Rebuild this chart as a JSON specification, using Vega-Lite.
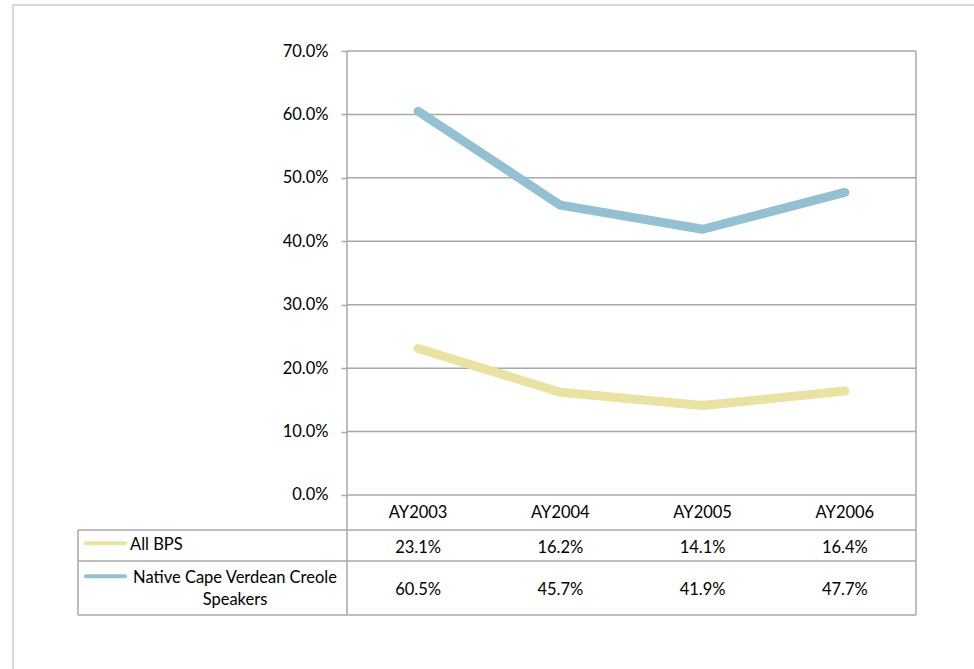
{
  "$schema": "https://vega.github.io/schema/vega-lite/v6.json",
  "width": 974,
  "height": 669,
  "autosize": {"type": "fit", "contains": "padding"},
  "padding": {"left": 13, "top": 5, "right": -4, "bottom": -4},
  "background": "white",
  "config": {
    "view": {"stroke": "#d9d9d9", "strokeWidth": 2},
    "text": {"font": "Lato", "fontSize": 16.5, "color": "#000000"},
    "axis": {"labelFont": "Lato", "labelFontSize": 16.5, "labelColor": "#000000"}
  },
  "datasets": {
    "main": [
      {"year": 2003, "label": "AY2003", "series": "All BPS", "value": 0.231},
      {"year": 2004, "label": "AY2004", "series": "All BPS", "value": 0.162},
      {"year": 2005, "label": "AY2005", "series": "All BPS", "value": 0.141},
      {"year": 2006, "label": "AY2006", "series": "All BPS", "value": 0.164},
      {"year": 2003, "label": "AY2003", "series": "Native Cape Verdean Creole Speakers", "value": 0.605},
      {"year": 2004, "label": "AY2004", "series": "Native Cape Verdean Creole Speakers", "value": 0.457},
      {"year": 2005, "label": "AY2005", "series": "Native Cape Verdean Creole Speakers", "value": 0.419},
      {"year": 2006, "label": "AY2006", "series": "Native Cape Verdean Creole Speakers", "value": 0.477}
    ],
    "ticks": [{"t": 0}, {"t": 0.1}, {"t": 0.2}, {"t": 0.3}, {"t": 0.4}, {"t": 0.5}, {"t": 0.6}, {"t": 0.7}],
    "one": [{}]
  },
  "layer": [
    {
      "data": {"name": "ticks"},
      "mark": {"type": "rule", "color": "#a8a8a8", "strokeWidth": 1.5},
      "encoding": {
        "x": {"datum": 2002.5, "type": "quantitative", "scale": {"domain": [2000.15202, 2006.93585], "nice": false, "zero": false}, "axis": null},
        "x2": {"datum": 2006.5},
        "y": {"field": "t", "type": "quantitative", "scale": {"domain": [-0.280631, 0.772523], "nice": false, "zero": false},
          "axis": {"orient": "left", "offset": -334, "values": [0, 0.1, 0.2, 0.3, 0.4, 0.5, 0.6, 0.7], "format": ".1%", "domain": false, "grid": false, "ticks": true, "tickSize": 6, "tickColor": "#a8a8a8", "tickWidth": 1.5, "labelPadding": 13, "title": null}}
      }
    },
    {
      "data": {"name": "one"},
      "mark": {"type": "rule", "color": "#a8a8a8", "strokeWidth": 1.5},
      "encoding": {
        "x": {"datum": 2000.60896, "type": "quantitative", "scale": {"domain": [2000.15202, 2006.93585], "nice": false, "zero": false}, "axis": null},
        "x2": {"datum": 2006.5},
        "y": {"datum": -0.05518, "type": "quantitative", "scale": {"domain": [-0.280631, 0.772523], "nice": false, "zero": false}}
      }
    },
    {
      "data": {"name": "one"},
      "mark": {"type": "rule", "color": "#a8a8a8", "strokeWidth": 1.5},
      "encoding": {
        "x": {"datum": 2000.60896, "type": "quantitative", "scale": {"domain": [2000.15202, 2006.93585], "nice": false, "zero": false}, "axis": null},
        "x2": {"datum": 2006.5},
        "y": {"datum": -0.104054, "type": "quantitative", "scale": {"domain": [-0.280631, 0.772523], "nice": false, "zero": false}}
      }
    },
    {
      "data": {"name": "one"},
      "mark": {"type": "rule", "color": "#a8a8a8", "strokeWidth": 1.5},
      "encoding": {
        "x": {"datum": 2000.60896, "type": "quantitative", "scale": {"domain": [2000.15202, 2006.93585], "nice": false, "zero": false}, "axis": null},
        "x2": {"datum": 2006.5},
        "y": {"datum": -0.189189, "type": "quantitative", "scale": {"domain": [-0.280631, 0.772523], "nice": false, "zero": false}}
      }
    },
    {
      "data": {"name": "one"},
      "mark": {"type": "rule", "color": "#a8a8a8", "strokeWidth": 1.5},
      "encoding": {
        "x": {"datum": 2002.5, "type": "quantitative", "scale": {"domain": [2000.15202, 2006.93585], "nice": false, "zero": false}, "axis": null},
        "y": {"datum": 0.7, "type": "quantitative", "scale": {"domain": [-0.280631, 0.772523], "nice": false, "zero": false}},
        "y2": {"datum": -0.189189}
      }
    },
    {
      "data": {"name": "one"},
      "mark": {"type": "rule", "color": "#a8a8a8", "strokeWidth": 1.5},
      "encoding": {
        "x": {"datum": 2006.5, "type": "quantitative", "scale": {"domain": [2000.15202, 2006.93585], "nice": false, "zero": false}, "axis": null},
        "y": {"datum": 0.7, "type": "quantitative", "scale": {"domain": [-0.280631, 0.772523], "nice": false, "zero": false}},
        "y2": {"datum": -0.189189}
      }
    },
    {
      "data": {"name": "one"},
      "mark": {"type": "rule", "color": "#a8a8a8", "strokeWidth": 1.5},
      "encoding": {
        "x": {"datum": 2000.60896, "type": "quantitative", "scale": {"domain": [2000.15202, 2006.93585], "nice": false, "zero": false}, "axis": null},
        "y": {"datum": -0.05518, "type": "quantitative", "scale": {"domain": [-0.280631, 0.772523], "nice": false, "zero": false}},
        "y2": {"datum": -0.189189}
      }
    },
    {
      "data": {"name": "main"},
      "mark": {"type": "line", "strokeWidth": 9, "strokeCap": "round", "strokeJoin": "round"},
      "encoding": {
        "x": {"field": "year", "type": "quantitative", "scale": {"domain": [2000.15202, 2006.93585], "nice": false, "zero": false}, "axis": null},
        "y": {"field": "value", "type": "quantitative", "scale": {"domain": [-0.280631, 0.772523], "nice": false, "zero": false}},
        "color": {"field": "series", "type": "nominal", "scale": {"domain": ["All BPS", "Native Cape Verdean Creole Speakers"], "range": ["#e9e2a2", "#93c1d1"]}, "legend": null}
      }
    },
    {
      "data": {"name": "main"},
      "transform": [{"filter": "datum.series === 'All BPS'"}],
      "mark": {"type": "text", "baseline": "middle", "align": "center"},
      "encoding": {
        "x": {"field": "year", "type": "quantitative", "scale": {"domain": [2000.15202, 2006.93585], "nice": false, "zero": false}, "axis": null},
        "y": {"datum": -0.02885, "type": "quantitative", "scale": {"domain": [-0.280631, 0.772523], "nice": false, "zero": false}},
        "text": {"field": "label", "type": "nominal"}
      }
    },
    {
      "data": {"name": "main"},
      "transform": [{"filter": "datum.series === 'All BPS'"}],
      "mark": {"type": "text", "baseline": "middle", "align": "center"},
      "encoding": {
        "x": {"field": "year", "type": "quantitative", "scale": {"domain": [2000.15202, 2006.93585], "nice": false, "zero": false}, "axis": null},
        "y": {"datum": -0.08309, "type": "quantitative", "scale": {"domain": [-0.280631, 0.772523], "nice": false, "zero": false}},
        "text": {"field": "value", "type": "quantitative", "format": ".1%"}
      }
    },
    {
      "data": {"name": "main"},
      "transform": [{"filter": "datum.series !== 'All BPS'"}],
      "mark": {"type": "text", "baseline": "middle", "align": "center"},
      "encoding": {
        "x": {"field": "year", "type": "quantitative", "scale": {"domain": [2000.15202, 2006.93585], "nice": false, "zero": false}, "axis": null},
        "y": {"datum": -0.14977, "type": "quantitative", "scale": {"domain": [-0.280631, 0.772523], "nice": false, "zero": false}},
        "text": {"field": "value", "type": "quantitative", "format": ".1%"}
      }
    },
    {
      "data": {"name": "one"},
      "mark": {"type": "text", "baseline": "middle", "align": "left", "text": "All BPS"},
      "encoding": {
        "x": {"datum": 2000.9745, "type": "quantitative", "scale": {"domain": [2000.15202, 2006.93585], "nice": false, "zero": false}, "axis": null},
        "y": {"datum": -0.07883, "type": "quantitative", "scale": {"domain": [-0.280631, 0.772523], "nice": false, "zero": false}}
      }
    },
    {
      "data": {"name": "one"},
      "mark": {"type": "text", "baseline": "middle", "align": "center", "lineHeight": 22, "text": ["Native Cape Verdean Creole", "Speakers"]},
      "encoding": {
        "x": {"datum": 2001.7127, "type": "quantitative", "scale": {"domain": [2000.15202, 2006.93585], "nice": false, "zero": false}, "axis": null},
        "y": {"datum": -0.13038, "type": "quantitative", "scale": {"domain": [-0.280631, 0.772523], "nice": false, "zero": false}}
      }
    },
    {
      "data": {"name": "one"},
      "mark": {"type": "rule", "color": "#e9e2a2", "strokeWidth": 4, "strokeCap": "round"},
      "encoding": {
        "x": {"datum": 2000.6652, "type": "quantitative", "scale": {"domain": [2000.15202, 2006.93585], "nice": false, "zero": false}, "axis": null},
        "x2": {"datum": 2000.9393},
        "y": {"datum": -0.07614, "type": "quantitative", "scale": {"domain": [-0.280631, 0.772523], "nice": false, "zero": false}}
      }
    },
    {
      "data": {"name": "one"},
      "mark": {"type": "rule", "color": "#93c1d1", "strokeWidth": 4, "strokeCap": "round"},
      "encoding": {
        "x": {"datum": 2000.6652, "type": "quantitative", "scale": {"domain": [2000.15202, 2006.93585], "nice": false, "zero": false}, "axis": null},
        "x2": {"datum": 2000.9393},
        "y": {"datum": -0.12793, "type": "quantitative", "scale": {"domain": [-0.280631, 0.772523], "nice": false, "zero": false}}
      }
    }
  ]
}
